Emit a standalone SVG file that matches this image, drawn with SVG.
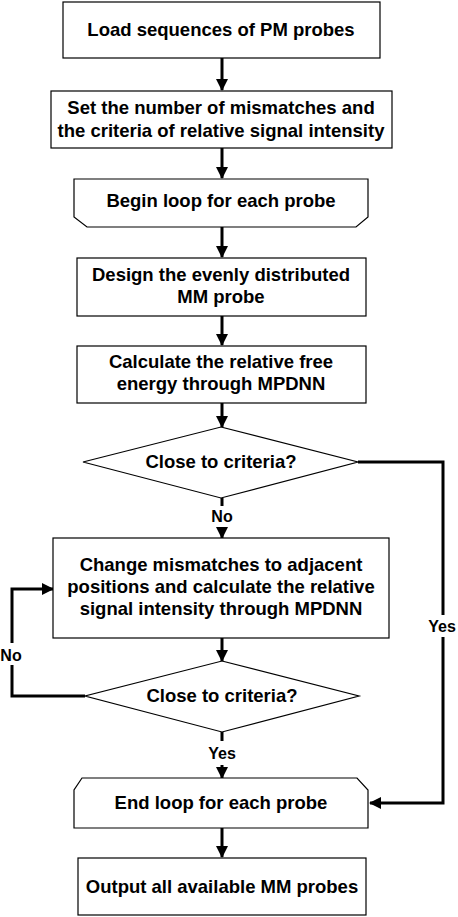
<svg xmlns="http://www.w3.org/2000/svg" width="458" height="917" viewBox="0 0 458 917">
<style>
.n{fill:#fff;stroke:#000;stroke-width:1.2}
.t{font-family:"Liberation Sans",Arial,sans-serif;font-weight:bold;font-size:18.5px;text-anchor:middle;fill:#000}
.l{font-family:"Liberation Sans",Arial,sans-serif;font-weight:bold;font-size:16px;text-anchor:middle;fill:#000}
.c{fill:none;stroke:#000;stroke-width:3}
</style>
<defs>
<marker id="b" markerWidth="12" markerHeight="12" refX="11" refY="6" orient="auto" markerUnits="userSpaceOnUse"><path d="M0,0 L12,6 L0,12 Z" fill="#000"/></marker>
</defs>
<rect width="458" height="917" fill="#fff"/>
<g id="connectors">
<path class="c" d="M222,58 V90" marker-end="url(#b)"/>
<path class="c" d="M222,148 V178" marker-end="url(#b)"/>
<path class="c" d="M222,227 V257" marker-end="url(#b)"/>
<path class="c" d="M222,316 V345" marker-end="url(#b)"/>
<path class="c" d="M222,403 V427" marker-end="url(#b)"/>
<path class="c" d="M222,498 V506"/>
<path class="c" d="M222,528 V538" marker-end="url(#b)"/>
<path class="c" d="M222,638 V661" marker-end="url(#b)"/>
<path class="c" d="M222,732 V741"/>
<path class="c" d="M222,765 V778" marker-end="url(#b)"/>
<path class="c" d="M222,828 V857" marker-end="url(#b)"/>
<path class="c" d="M358,462 H443 V803 H370" marker-end="url(#b)"/>
<path class="c" d="M85,696 H12 V589 H53" marker-end="url(#b)"/>
<rect x="427" y="615" width="31" height="22" fill="#fff"/>
<text class="l" x="442" y="632">Yes</text>
<rect x="0" y="643" width="24" height="22" fill="#fff"/>
<text class="l" x="11" y="661">No</text>
<text class="l" x="222" y="522">No</text>
<text class="l" x="222" y="759">Yes</text>
</g>
<g id="load">
<rect class="n" x="63" y="2" width="317" height="56"/>
<text class="t" x="221" y="36">Load sequences of PM probes</text>
</g>
<g id="set">
<rect class="n" x="51" y="91" width="341" height="57"/>
<text class="t" x="221" y="114">Set the number of mismatches and</text>
<text class="t" x="221" y="137">the criteria of relative signal intensity</text>
</g>
<g id="begin">
<path class="n" d="M74,179 H368 V217 L356,227 H87 L74,217 Z"/>
<text class="t" x="221" y="207">Begin loop for each probe</text>
</g>
<g id="design">
<rect class="n" x="77" y="258" width="289" height="58"/>
<text class="t" x="221" y="281">Design the evenly distributed</text>
<text class="t" x="221" y="303">MM probe</text>
</g>
<g id="calc">
<rect class="n" x="77" y="346" width="289" height="57"/>
<text class="t" x="221" y="368">Calculate the relative free</text>
<text class="t" x="221" y="390">energy through MPDNN</text>
</g>
<g id="dec1">
<path class="n" d="M221,427 L358,462 L221,498 L83,462 Z"/>
<text class="t" x="221" y="468">Close to criteria?</text>
</g>
<g id="change">
<rect class="n" x="53" y="538" width="336" height="100"/>
<text class="t" x="221" y="571">Change mismatches to adjacent</text>
<text class="t" x="221" y="593">positions and calculate the relative</text>
<text class="t" x="221" y="615">signal intensity through MPDNN</text>
</g>
<g id="dec2">
<path class="n" d="M222,661 L359,696 L222,732 L85,696 Z"/>
<text class="t" x="222" y="702">Close to criteria?</text>
</g>
<g id="end">
<path class="n" d="M82,778 H357 L368,790 V828 H74 V790 Z"/>
<text class="t" x="221" y="809">End loop for each probe</text>
</g>
<g id="output">
<rect class="n" x="78" y="858" width="288" height="57"/>
<text class="t" x="222" y="893">Output all available MM probes</text>
</g>
</svg>
